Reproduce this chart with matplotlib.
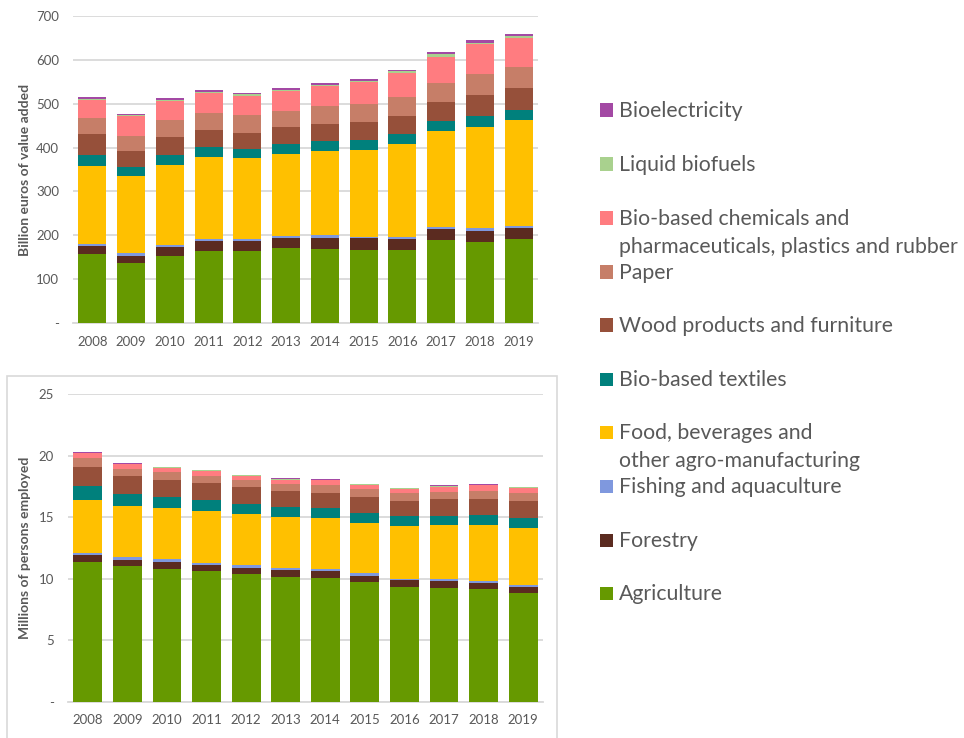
import matplotlib
matplotlib.use("Agg")
import matplotlib.pyplot as plt
from matplotlib.patches import Rectangle
import numpy as np

plt.rcParams['font.family'] = ['Liberation Sans Narrow', 'Lato', 'DejaVu Sans']

years = ['2008', '2009', '2010', '2011', '2012', '2013', '2014', '2015', '2016', '2017', '2018', '2019']

sectors = ['Agriculture', 'Forestry', 'Fishing and aquaculture',
           'Food, beverages and\nother agro-manufacturing', 'Bio-based textiles',
           'Wood products and furniture', 'Paper',
           'Bio-based chemicals and\npharmaceuticals, plastics and rubber',
           'Liquid biofuels', 'Bioelectricity']

colors = ['#669900', '#5B2B20', '#7F98DE', '#FFC000', '#00807C',
          '#96503A', '#C67E68', '#FF7C80', '#A9D18E', '#A349A4']

# Value added, billion euros (per sector)
va_agriculture = [157, 137, 153, 165, 165, 171, 169, 166, 166, 189, 185, 191]
va_forestry    = [20, 16, 21, 22, 22, 23, 26, 27, 26, 26, 26, 25]
va_fishing     = [4, 6, 5, 5, 5, 4, 5, 4, 5, 5, 5, 6]
va_food        = [178, 177, 182, 186, 184, 188, 191, 198, 211, 218, 231, 240]
va_textiles    = [24, 20, 22, 23, 21, 23, 23, 23, 23, 22, 25, 24]
va_wood        = [47, 37, 40, 40, 37, 38, 40, 40, 41, 44, 47, 50]
va_paper       = [37, 34, 39, 37, 39, 35, 40, 41, 42, 43, 49, 48]
va_chemicals   = [42, 44, 45, 45, 44, 47, 47, 49, 56, 60, 67, 65]
va_biofuels    = [2, 2, 2, 4, 4, 2, 2, 4, 4, 6, 4, 4]
va_bioelec     = [3, 4, 3, 4, 2, 4, 3, 4, 3, 4, 5, 5]

# Employment, millions of persons (per sector)
em_agriculture = [11.36, 11.04, 10.82, 10.58, 10.39, 10.17, 10.06, 9.71, 9.33, 9.25, 9.15, 8.82]
em_forestry    = [0.54, 0.49, 0.54, 0.54, 0.51, 0.54, 0.52, 0.54, 0.52, 0.54, 0.51, 0.51]
em_fishing     = [0.19, 0.21, 0.22, 0.16, 0.17, 0.14, 0.19, 0.19, 0.13, 0.19, 0.13, 0.14]
em_food        = [4.31, 4.20, 4.17, 4.20, 4.19, 4.17, 4.17, 4.09, 4.31, 4.39, 4.58, 4.68]
em_textiles    = [1.13, 0.94, 0.92, 0.92, 0.81, 0.78, 0.83, 0.81, 0.81, 0.75, 0.78, 0.81]
em_wood        = [1.54, 1.44, 1.38, 1.38, 1.41, 1.33, 1.22, 1.33, 1.24, 1.36, 1.33, 1.33]
em_paper       = [0.71, 0.59, 0.59, 0.59, 0.54, 0.59, 0.60, 0.59, 0.60, 0.59, 0.65, 0.65]
em_chemicals   = [0.40, 0.38, 0.38, 0.41, 0.35, 0.33, 0.40, 0.38, 0.38, 0.38, 0.46, 0.46]
em_biofuels    = [0.03, 0.03, 0.03, 0.03, 0.03, 0.05, 0.03, 0.03, 0.03, 0.06, 0.03, 0.03]
em_bioelec     = [0.08, 0.05, 0.05, 0.05, 0.05, 0.11, 0.05, 0.05, 0.05, 0.08, 0.05, 0.05]

va_series = [va_agriculture, va_forestry, va_fishing, va_food, va_textiles,
             va_wood, va_paper, va_chemicals, va_biofuels, va_bioelec]
em_series = [em_agriculture, em_forestry, em_fishing, em_food, em_textiles,
             em_wood, em_paper, em_chemicals, em_biofuels, em_bioelec]

va_ticks = [0, 100, 200, 300, 400, 500, 600, 700]
va_ticklabels = ['-', '100', '200', '300', '400', '500', '600', '700']
em_ticks = [0, 5, 10, 15, 20, 25]
em_ticklabels = ['-', '5', '10', '15', '20', '25']

W, H = 964, 738
fig = plt.figure(figsize=(W / 100, H / 100), dpi=100)
fig.patch.set_facecolor('white')

grid_c = '#D9D9D9'
text_c = '#595959'


def px_axes(x0, y0, x1, y1):
    return fig.add_axes([x0 / W, 1 - y1 / H, (x1 - x0) / W, (y1 - y0) / H])


def draw(ax, series, ticks, ticklabels, ylabel, labx, width):
    x = np.arange(len(years))
    bottom = np.zeros(len(years))
    for vals, c in zip(series, colors):
        v = np.array(vals, dtype=float)
        ax.bar(x, v, width=width, bottom=bottom, color=c, linewidth=0, zorder=3)
        bottom += v
    ax.set_xlim(-0.5, len(years) - 0.5)
    ax.set_ylim(0, ticks[-1])
    ax.set_yticks(ticks)
    ax.set_yticklabels(ticklabels)
    ax.set_xticks(x)
    ax.set_xticklabels(years)
    ax.tick_params(axis='both', length=0, colors=text_c, labelsize=9.5)
    ax.tick_params(axis='y', pad=10)
    ax.tick_params(axis='x', pad=9)
    ax.grid(axis='y', color=grid_c, linewidth=1.3, zorder=0)
    for s in ['top', 'right', 'left']:
        ax.spines[s].set_visible(False)
    ax.spines['bottom'].set_color(grid_c)
    ax.spines['bottom'].set_linewidth(1.3)
    ax.set_ylabel(ylabel, color=text_c, fontsize=10, fontweight='bold',
                  family=['Lato', 'DejaVu Sans'])
    ax.yaxis.set_label_coords(labx, 0.5)
    ax.set_facecolor('none')


ax1 = px_axes(73, 15.7, 538, 323.3)
draw(ax1, va_series, va_ticks, va_ticklabels, 'Billion euros of value added', -0.090, 0.72)

# bottom chart frame
fig.add_artist(Rectangle((7 / W, 1 - 745 / H), 550 / W, (745 - 376) / H,
                         transform=fig.transFigure, facecolor='none',
                         edgecolor=grid_c, linewidth=1.2))

ax2 = px_axes(68, 394, 543, 701.7)
draw(ax2, em_series, em_ticks, em_ticklabels, 'Millions of persons employed', -0.078, 0.73)

# legend (top entry = last stacked series)
legend_y = [110, 164, 218, 272, 325, 379, 432, 486, 540, 593]
for i, (lab, c) in enumerate(zip(sectors[::-1], colors[::-1])):
    yc = legend_y[i]
    fig.add_artist(Rectangle((600 / W, 1 - (yc + 6.5) / H), 13 / W, 13 / H,
                             transform=fig.transFigure, facecolor=c, edgecolor='none'))
    fig.text(619 / W, 1 - (yc - 9) / H, lab, ha='left', va='top', color=text_c,
             fontsize=15.3, family=['Lato', 'DejaVu Sans'], linespacing=1.52)

fig.savefig('out.png', dpi=100)
